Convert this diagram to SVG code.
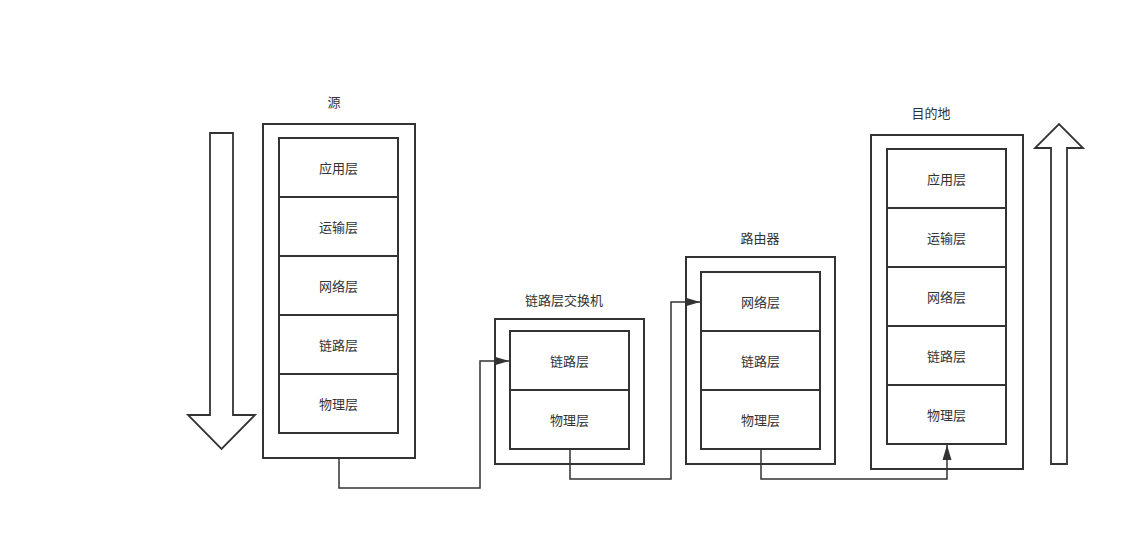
<svg xmlns="http://www.w3.org/2000/svg" width="1145" height="549" viewBox="0 0 1145 549">
<defs>
<marker id="ah" viewBox="0 0 15 10" refX="15" refY="5" markerWidth="15" markerHeight="10" markerUnits="userSpaceOnUse" orient="auto"><path d="M0,0.5 L15,5 L0,9.5 Z" fill="#333"/></marker>
</defs>
<style>
.box{fill:#fff;stroke:#333;stroke-width:2}
.ln{fill:none;stroke:#333;stroke-width:2}
.big{fill:#fff;stroke:#333;stroke-width:1.8}
.t{font-family:"Noto Sans CJK SC","Liberation Sans",sans-serif;font-size:13px;fill:#333;text-anchor:middle;dominant-baseline:central}
.c{fill:none;stroke:#333;stroke-width:1.5}
</style>
<rect width="1145" height="549" fill="#fff"/>
<g id="down-arrow"><path class="big" d="M210,133 H233 V415 H255 L221.5,449 L188,415 H210 Z"/></g>
<g id="up-arrow"><path class="big" d="M1051,464 V148 H1035 L1059,124 L1083,148 H1067 V464 Z"/></g>
<g id="source">
<text class="t" x="334" y="101">源</text>
<rect class="box" x="263" y="124" width="152" height="334"/>
<rect class="box" x="279" y="138" width="119" height="295"/>
<path class="ln" d="M279,197 H398 M279,256 H398 M279,315 H398 M279,374 H398"/>
<text class="t" x="338.5" y="167.5">应用层</text>
<text class="t" x="338.5" y="226.5">运输层</text>
<text class="t" x="338.5" y="285.5">网络层</text>
<text class="t" x="338.5" y="344.5">链路层</text>
<text class="t" x="338.5" y="403.5">物理层</text>
</g>
<g id="switch">
<text class="t" x="564" y="299">链路层交换机</text>
<rect class="box" x="495" y="319" width="149" height="145"/>
<rect class="box" x="510" y="331" width="119" height="118"/>
<path class="ln" d="M510,390 H629"/>
<text class="t" x="569.5" y="360.5">链路层</text>
<text class="t" x="569.5" y="419.5">物理层</text>
</g>
<g id="router">
<text class="t" x="760" y="237">路由器</text>
<rect class="box" x="686" y="257" width="149" height="207"/>
<rect class="box" x="701" y="272" width="119" height="177"/>
<path class="ln" d="M701,331 H820 M701,390 H820"/>
<text class="t" x="760.5" y="301.5">网络层</text>
<text class="t" x="760.5" y="360.5">链路层</text>
<text class="t" x="760.5" y="419.5">物理层</text>
</g>
<g id="destination">
<text class="t" x="931" y="112">目的地</text>
<rect class="box" x="871" y="135" width="152" height="334"/>
<rect class="box" x="887" y="149" width="119" height="295"/>
<path class="ln" d="M887,208 H1006 M887,267 H1006 M887,326 H1006 M887,385 H1006"/>
<text class="t" x="946.5" y="178.5">应用层</text>
<text class="t" x="946.5" y="237.5">运输层</text>
<text class="t" x="946.5" y="296.5">网络层</text>
<text class="t" x="946.5" y="355.5">链路层</text>
<text class="t" x="946.5" y="414.5">物理层</text>
</g>
<g id="connectors">
<path class="c" d="M339,459 V488 H480 V361 H509" marker-end="url(#ah)"/>
<path class="c" d="M570,450 V479 H671 V302 H700" marker-end="url(#ah)"/>
<path class="c" d="M761,450 V479 H947 V445" marker-end="url(#ah)"/>
</g>
</svg>
